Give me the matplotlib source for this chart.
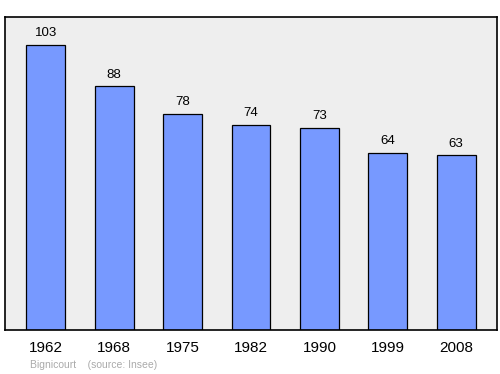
import matplotlib
matplotlib.use("Agg")
import matplotlib.pyplot as plt

plt.rcParams["font.family"] = ["Liberation Sans", "DejaVu Sans"]

years = ["1962", "1968", "1975", "1982", "1990", "1999", "2008"]
population = [103, 88, 78, 74, 73, 64, 63]
title_text = "Bignicourt    (source: Insee)"

fig = plt.figure(figsize=(5, 3.74), dpi=100)
ax = fig.add_axes([0.01, 0.1176, 0.984, 0.837])
ax.set_facecolor("#eeeeee")
x = list(range(len(years)))
ax.bar(x, population, width=0.57, color="#7799ff", edgecolor="#000000", linewidth=0.9)
for xi, v in zip(x, population):
    ax.annotate(str(v), (xi, v), xytext=(0, 4), textcoords="offset points",
                ha="center", va="bottom", fontsize=9.5, color="#000000")
ax.set_xlim(-0.597, 6.597)
ax.set_ylim(0, 113)
ax.set_xticks(x)
ax.set_xticklabels(years, fontsize=11)
ax.tick_params(axis="x", length=0, pad=8)
ax.set_yticks([])
for s in ax.spines.values():
    s.set_linewidth(1.2)
fig.text(0.06, 0.024, title_text, fontsize=7.5, color="#aaaaaa", ha="left", va="center")
fig.savefig("out.png", dpi=100)
